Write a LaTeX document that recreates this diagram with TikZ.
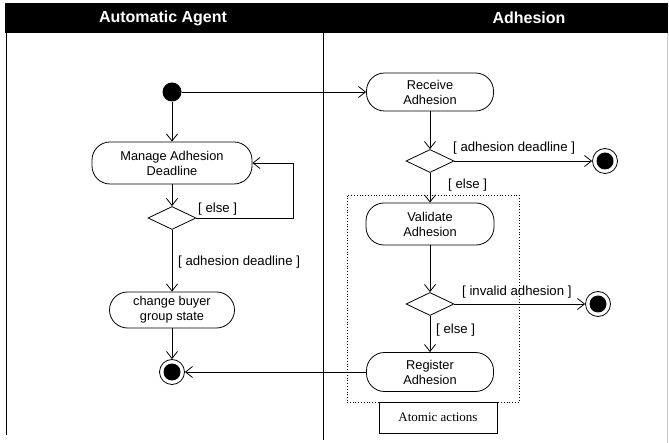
\documentclass[tikz,border=0pt]{standalone}
\usepackage{fontspec}
\setmainfont{Liberation Sans}
\newfontfamily\notefont{Liberation Serif}
\usetikzlibrary{positioning, calc, shapes.geometric, arrows.meta}
\tikzstyle{Line} = [line width=0.8pt]
\tikzstyle{Arrow} = [
line width=0.8pt,
-{Straight Barb[length=7pt, width=11pt]}]
\tikzstyle{Activity} = [
draw, line width=0.8pt,
rectangle, rounded corners=18pt,
minimum height=40pt, align=center,
font=\fontsize{12.8}{15}\selectfont]
\tikzstyle{Decision} = [
draw, line width=0.8pt, diamond,
minimum width=48pt, minimum height=23pt, inner sep=0pt]
\tikzstyle{Start} = [circle, fill=black, minimum size=19pt, inner sep=0pt]
\tikzstyle{End} = [
circle, draw, line width=0.8pt, minimum size=25pt, inner sep=0pt,
path picture={\fill (path picture bounding box.center) circle (8.5pt);}]
\tikzstyle{Guard} = [font=\fontsize{13.2}{15}\selectfont, inner sep=0pt, anchor=west]
\tikzstyle{Header} = [text=white, font=\fontsize{16}{18}\selectfont\bfseries]

\begin{document}
\begin{tikzpicture}[x=1pt, y=-1pt]
    \useasboundingbox (0,0) rectangle (669,443);
    % swimlanes
    \fill (5,3) rectangle (668,33);
    \node[Header] (lane1) at (163,18) {Automatic Agent};
    \node[Header] (lane2) at (529,18) {Adhesion};
    \draw[Line] (6,33) -- (6,435);
    \draw[Line] (323,33) -- (323,440);
    \draw[very thin, gray!40] (667,33) -- (667,443);

    % automatic agent
    \node[Start] (start) at (172,92) {};
    \node[Activity, minimum width=160pt, minimum height=42pt] (manage) at (172,163) {Manage Adhesion\\Deadline};
    \node[Decision] (dec1) at (172,218) {};
    \node[Activity, minimum width=125pt, minimum height=36pt] (change) at (172,310) {change buyer\\group state};
    \node[End] (end1) at (172,372) {};
    \coordinate (loop) at (293,163);

    % adhesion
    \node[Activity, minimum width=127pt, minimum height=38pt] (receive) at (430,92) {Receive\\Adhesion};
    \node[Decision] (dec2) at (430,161) {};
    \node[End] (end2) at (605,161) {};
    \node[Activity, minimum width=128pt, minimum height=42pt] (validate) at (430,224) {Validate\\Adhesion};
    \node[Decision] (dec3) at (430,304) {};
    \node[End] (end3) at (598,304) {};
    \node[Activity, minimum width=127pt, minimum height=39pt] (register) at (430,372) {Register\\Adhesion};
    \node[draw, dotted, line width=0.8pt, minimum width=172pt, minimum height=207pt] (atomic) at (433,298.5) {};
    \node[draw, line width=0.8pt, minimum width=118pt, minimum height=31pt,
          font=\notefont\fontsize{13}{15}\selectfont] (note) at (438,417.5) {Atomic actions};

    % guards
    \node[Guard] (g1) at (198,209) {[ else ]};
    \node[Guard] (g2) at (178,262) {[ adhesion deadline ]};
    \node[Guard] (g3) at (453,148) {[ adhesion deadline ]};
    \node[Guard] (g4) at (448,185) {[ else ]};
    \node[Guard] (g5) at (462,292) {[ invalid adhesion ]};
    \node[Guard] (g6) at (436,330) {[ else ]};

    % flows
    \draw[Arrow] (start) -- (receive);
    \draw[Arrow] (start) -- (manage);
    \draw[Arrow] (manage) -- (dec1);
    \draw[Arrow] (dec1.east) -| (loop) -- (manage.east);
    \draw[Arrow] (dec1) -- (change);
    \draw[Arrow] (change) -- (end1);
    \draw[Arrow] (receive) -- (dec2);
    \draw[Arrow] (dec2) -- (end2);
    \draw[Arrow] (dec2) -- (validate);
    \draw[Arrow] (validate) -- (dec3);
    \draw[Arrow] (dec3) -- (end3);
    \draw[Arrow] (dec3) -- (register);
    \draw[Arrow] (register) -- (end1);
\end{tikzpicture}
\end{document}
